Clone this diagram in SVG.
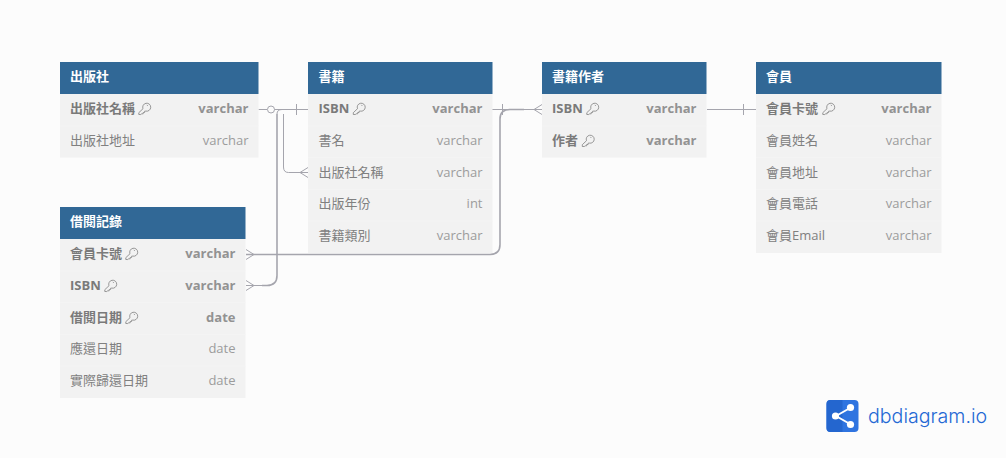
<svg xmlns="http://www.w3.org/2000/svg" width="1006" height="458" viewBox="0 0 1006 458">
<style>
text{font-family:"Open Sans","Noto Sans CJK TC",sans-serif;font-size:13px;fill:#808080}
.h{font-weight:700;fill:#fff}
.b{font-weight:700;fill:#7a7a7a}
.t{text-anchor:end;fill:#9c9c9c}
.tb{text-anchor:end;font-weight:700;fill:#929292}
.body{fill:#f2f2f2}
.head{fill:#316896}
.sep{stroke:#f4f4f4;stroke-width:1}
.c{fill:none;stroke:#a5a5ad;stroke-width:1}
.c2{fill:none;stroke:#a5a5ad;stroke-width:1.600}
.k{fill:none;stroke:#808080;stroke-width:.8}
</style>
<defs>
<g id="key" class="k"><path d="M5 6.200A4 4 0 1 1 7.800 8.600L6.600 8.700V10H5.200V11.300H3.700L2.800 12H.8V10.200ZM8.800 2.400L9.800 3.400"/></g>
</defs>
<rect width="1006" height="458" fill="#fcfcfc"/>
<g id="connectors">
<path class="c2" d="M246 254.500H490Q500 254.500 500 244.500V119Q500 109.500 510 109.500H524"/>
<path class="c2" d="M277 114V275.500Q277 285.500 267 285.500H262"/>
<path class="c" d="M262 285.500H246"/>
<path class="c" d="M283.500 114V167Q283.500 172.500 288.500 172.500H308"/>
<path class="c" d="M277 114Q277 109.500 282 109.500H308"/>
<path class="c" d="M258.500 109.500H267"/>
<circle class="c" cx="271" cy="109.500" r="3.500" fill="none"/>
<path class="c" d="M274.500 109.500H308M296.500 104V115"/>
<path class="c" d="M300 172.500L308 167.500M300 172.500L308 177.500"/>
<path class="c" d="M246 249.500L254 254.500L246 259.500M246 280.500L254 285.500L246 290.500"/>
<path class="c" d="M492 109.500H542M502.500 104V115M534 109.500L542 104.500M534 109.500L542 114.500"/>
<path class="c" d="M707 109.500H756M743.500 104V115"/>
</g>
<g id="t1">
<rect class="body" x="60" y="94" width="198.500" height="63.600"/>
<rect class="head" x="60" y="62" width="198.500" height="32"/>
<path class="sep" d="M60 125.800H258.500"/>
<text class="h" x="70" y="81">出版社</text>
<text class="b" x="70" y="113">出版社名稱</text><use href="#key" x="138" y="102.500"/><text class="tb" x="248.500" y="113">varchar</text>
<text x="70" y="145">出版社地址</text><text class="t" x="248.500" y="145">varchar</text>
</g>
<g id="t2">
<rect class="body" x="308" y="94" width="184.500" height="159"/>
<rect class="head" x="308" y="62" width="184.500" height="32"/>
<path class="sep" d="M308 125.800H492.500M308 157.600H492.500M308 189.400H492.500M308 221.200H492.500"/>
<text class="h" x="318.500" y="81">書籍</text>
<text class="b" x="318.500" y="113">ISBN</text><use href="#key" x="352.500" y="102.500"/><text class="tb" x="482.500" y="113">varchar</text>
<text x="318.500" y="145">書名</text><text class="t" x="482.500" y="145">varchar</text>
<text x="318.500" y="177">出版社名稱</text><text class="t" x="482.500" y="177">varchar</text>
<text x="318.500" y="208">出版年份</text><text class="t" x="482.500" y="208">int</text>
<text x="318.500" y="240">書籍類別</text><text class="t" x="482.500" y="240">varchar</text>
</g>
<g id="t3">
<rect class="body" x="542" y="94" width="164.500" height="63.600"/>
<rect class="head" x="542" y="62" width="164.500" height="32"/>
<path class="sep" d="M542 125.800H706.500"/>
<text class="h" x="552" y="81">書籍作者</text>
<text class="b" x="552" y="113">ISBN</text><use href="#key" x="586" y="102.500"/><text class="tb" x="696.500" y="113">varchar</text>
<text class="b" x="552" y="145">作者</text><use href="#key" x="581.500" y="134.500"/><text class="tb" x="696.500" y="145">varchar</text>
</g>
<g id="t4">
<rect class="body" x="756" y="94" width="185.500" height="159"/>
<rect class="head" x="756" y="62" width="185.500" height="32"/>
<path class="sep" d="M756 125.800H941.500M756 157.600H941.500M756 189.400H941.500M756 221.200H941.500"/>
<text class="h" x="766" y="81">會員</text>
<text class="b" x="766" y="113">會員卡號</text><use href="#key" x="822" y="102.500"/><text class="tb" x="931.500" y="113">varchar</text>
<text x="766" y="145">會員姓名</text><text class="t" x="931.500" y="145">varchar</text>
<text x="766" y="177">會員地址</text><text class="t" x="931.500" y="177">varchar</text>
<text x="766" y="208">會員電話</text><text class="t" x="931.500" y="208">varchar</text>
<text x="766" y="240">會員Email</text><text class="t" x="931.500" y="240">varchar</text>
</g>
<g id="t5">
<rect class="body" x="60" y="239" width="185.500" height="159"/>
<rect class="head" x="60" y="207" width="185.500" height="32"/>
<path class="sep" d="M60 270.800H245.500M60 302.600H245.500M60 334.400H245.500M60 366.200H245.500"/>
<text class="h" x="70" y="226">借閱記錄</text>
<text class="b" x="70" y="258">會員卡號</text><use href="#key" x="125" y="247.500"/><text class="tb" x="235.500" y="258">varchar</text>
<text class="b" x="70" y="290">ISBN</text><use href="#key" x="104" y="279.500"/><text class="tb" x="235.500" y="290">varchar</text>
<text class="b" x="70" y="322">借閱日期</text><use href="#key" x="125" y="311.500"/><text class="tb" x="235.500" y="322">date</text>
<text x="70" y="353">應還日期</text><text class="t" x="235.500" y="353">date</text>
<text x="70" y="385">實際歸還日期</text><text class="t" x="235.500" y="385">date</text>
</g>
<g id="logo">
<rect x="826.500" y="400" width="32" height="32" rx="4" fill="#2f74e0"/>
<path d="M830.500 400H842.500V432H830.500a4 4 0 0 1 -4 -4V404a4 4 0 0 1 4 -4Z" fill="#2466cf"/>
<path d="M836 416L850 408M836 416L850 424" stroke="#fff" stroke-width="2" fill="none"/>
<circle cx="835.500" cy="416" r="3.600" fill="#fff"/><circle cx="850.500" cy="407.500" r="3.600" fill="#fff"/><circle cx="850.500" cy="424.500" r="3.600" fill="#fff"/>
<text x="868" y="423" style="font-size:19.600px;font-weight:300;fill:#2468d4;font-family:Inter,sans-serif">dbdiagram.io</text>
</g>
</svg>
